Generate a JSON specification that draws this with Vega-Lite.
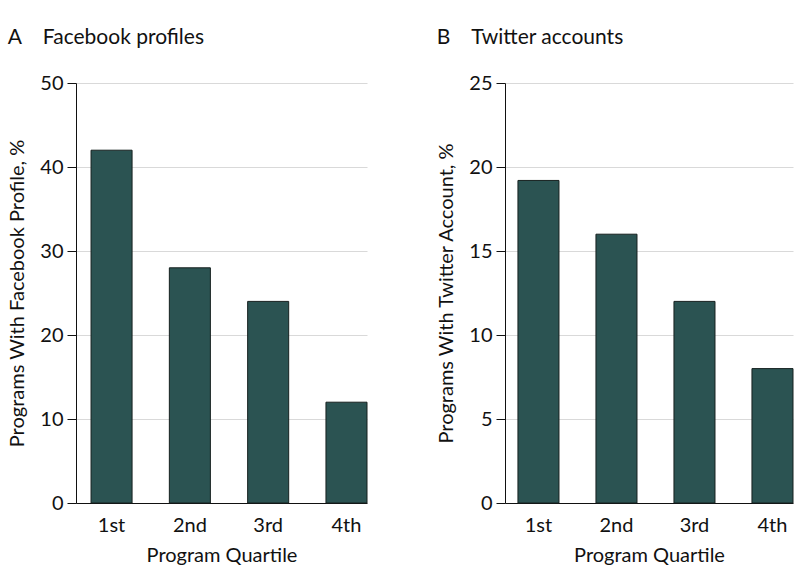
{
  "$schema": "https://vega.github.io/schema/vega-lite/v6.json",
  "background": "white",
  "padding": {"left": 7, "top": 27, "right": 0, "bottom": 5},
  "spacing": 68,
  "datasets": {
    "fb": [
      {"quartile": "1st", "value": 42},
      {"quartile": "2nd", "value": 28},
      {"quartile": "3rd", "value": 24},
      {"quartile": "4th", "value": 12}
    ],
    "tw": [
      {"quartile": "1st", "value": 19.2},
      {"quartile": "2nd", "value": 16},
      {"quartile": "3rd", "value": 12},
      {"quartile": "4th", "value": 8}
    ]
  },
  "config": {
    "font": "Lato",
    "view": {"stroke": null},
    "axis": {
      "labelFont": "Lato",
      "titleFont": "Lato",
      "labelFontSize": 20,
      "titleFontSize": 20,
      "titleFontWeight": "normal",
      "labelColor": "#111",
      "titleColor": "#111",
      "domainColor": "#111",
      "tickColor": "#111",
      "gridColor": "#d9d9d9",
      "gridWidth": 1
    },
    "title": {
      "font": "Lato",
      "fontSize": 21,
      "fontWeight": "normal",
      "color": "#111",
      "anchor": "start",
      "frame": "bounds",
      "offset": 25
    }
  },
  "hconcat": [
    {
      "title": "\u00a0A\u00a0\u00a0\u00a0\u00a0Facebook profiles",
      "width": 291,
      "height": 420,
      "data": {"name": "fb"},
      "mark": {"type": "bar", "fill": "#2b5352", "stroke": "#16201f", "strokeWidth": 1},
      "encoding": {
        "x": {
          "field": "quartile",
          "type": "nominal",
          "sort": null,
          "scale": {"paddingInner": 0.476, "paddingOuter": 0.096, "align": 1},
          "axis": {"title": "Program Quartile", "labelAngle": 0, "ticks": false, "labelPadding": 12, "titlePadding": 10}
        },
        "y": {
          "field": "value",
          "type": "quantitative",
          "scale": {"domain": [0, 50]},
          "axis": {"title": "Programs With Facebook Profile, %", "values": [0, 10, 20, 30, 40, 50], "tickSize": 9, "labelPadding": 4, "titlePadding": 12, "grid": true}
        }
      }
    },
    {
      "title": "\u00a0B\u00a0\u00a0\u00a0\u00a0Twitter accounts",
      "width": 288,
      "height": 420,
      "data": {"name": "tw"},
      "mark": {"type": "bar", "fill": "#2b5352", "stroke": "#16201f", "strokeWidth": 1},
      "encoding": {
        "x": {
          "field": "quartile",
          "type": "nominal",
          "sort": null,
          "scale": {"paddingInner": 0.474, "paddingOuter": 0.083, "align": 1},
          "axis": {"title": "Program Quartile", "labelAngle": 0, "ticks": false, "labelPadding": 12, "titlePadding": 10}
        },
        "y": {
          "field": "value",
          "type": "quantitative",
          "scale": {"domain": [0, 25]},
          "axis": {"title": "Programs With Twitter Account, %", "values": [0, 5, 10, 15, 20, 25], "tickSize": 9, "labelPadding": 4, "titlePadding": 12, "grid": true}
        }
      }
    }
  ]
}
